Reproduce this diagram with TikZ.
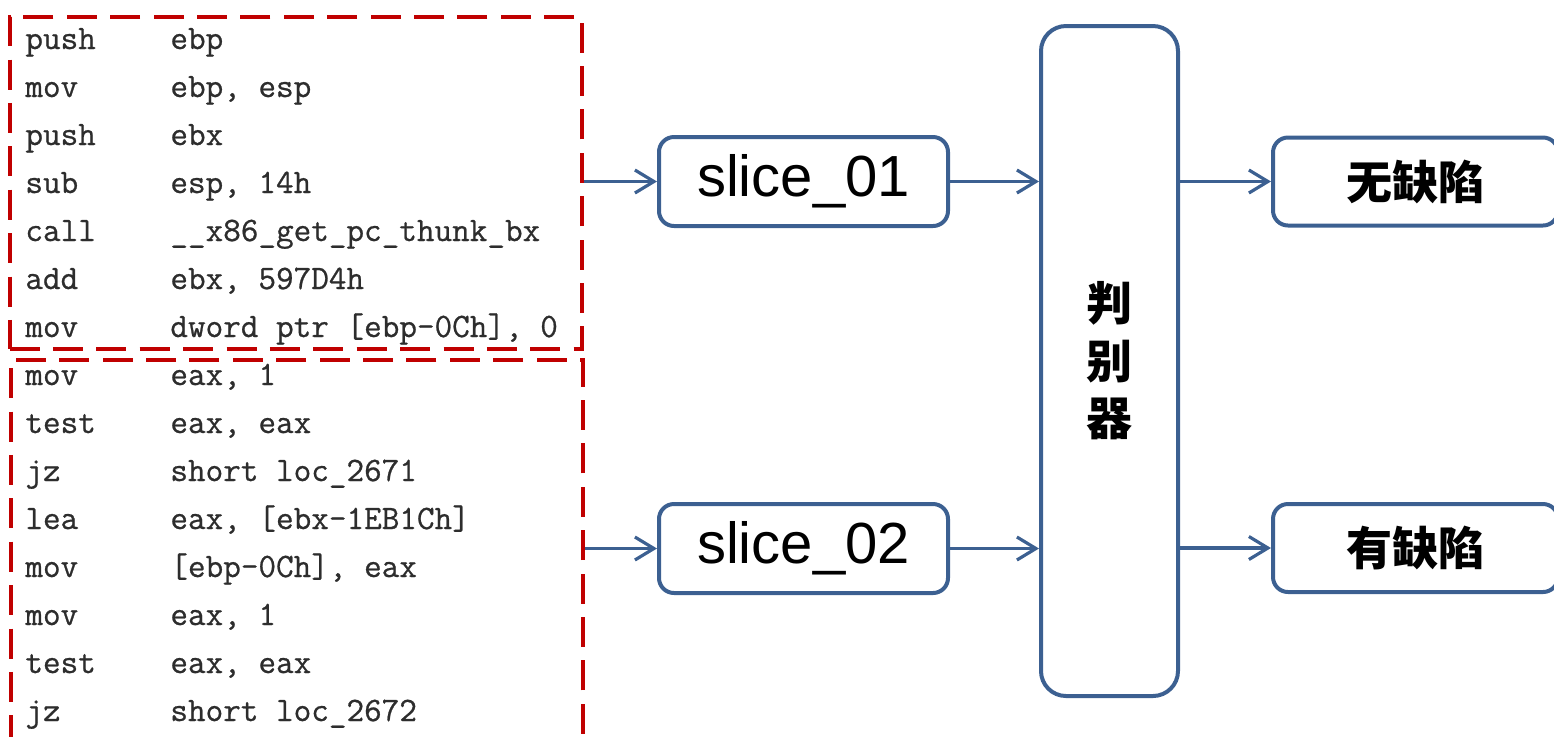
\documentclass[tikz,border=0pt]{standalone}
\usepackage{fontspec}
\newfontfamily\cjk{Noto Sans CJK SC}
\newfontfamily\labelfont{Liberation Sans}
\newfontfamily\codefont{Latin Modern Mono}[FakeBold=0.7]
\usetikzlibrary{arrows.meta}
\definecolor{flowblue}{RGB}{60,96,145}
\definecolor{dashred}{RGB}{192,0,0}
\definecolor{codegray}{RGB}{45,45,45}
\begin{document}
\begin{tikzpicture}[x=0.5pt,y=-0.5pt,
  codebox/.style={draw=dashred, line width=2pt, dash pattern=on 15pt off 6.7pt,
                  minimum width=286pt, inner sep=0pt},
  codetext/.style={anchor=base west, inner sep=0pt, text=codegray,
                   font=\codefont\fontsize{17.1}{20}\selectfont},
  flowbox/.style={draw=flowblue, line width=2pt, rounded corners=7.5pt,
                  fill=white, inner sep=0pt},
  slicebox/.style={flowbox, minimum width=144.5pt, minimum height=44.5pt,
                   font=\labelfont\fontsize{29}{34}\selectfont},
  resultbox/.style={flowbox, minimum width=142.5pt, minimum height=44pt,
                    font=\cjk\bfseries\fontsize{23}{28}\selectfont},
  flow/.style={draw=flowblue, line width=1.6pt,
               -{Straight Barb[length=9.5pt,width=11.5pt]}}
]
\clip (0,0) rectangle (1554,736);

% dashed frames round the two groups of instructions
\node[codebox, minimum height=166pt] (code1) at (295.5,182.5) {};
\node[codebox, minimum height=270pt] (code2) at (297,629.5) {};

% disassembly listing, one line every 48 units
\foreach \op/\arg [count=\i] in {
  push/ebp, mov/{ebp, esp}, push/ebx, sub/{esp, 14h},
  call/{\_\_x86\_get\_pc\_thunk\_bx}, add/{ebx, 597D4h},
  mov/{dword ptr [ebp-0Ch], 0},
  mov/{eax, 1}, test/{eax, eax}, jz/{short loc\_2671},
  lea/{eax, [ebx-1EB1Ch]}, mov/{[ebp-0Ch], eax}, mov/{eax, 1},
  test/{eax, eax}, jz/{short loc\_2672}} {
  \node[codetext] (op\i) at (25,{49+48*(\i-1)}) {\op};
  \node[codetext] (arg\i) at (170,{49+48*(\i-1)}) {\arg};
}

% slices
\node[slicebox] (s1) at (803.5,181.5) {slice\_01};
\node[slicebox] (s2) at (803.5,548.5) {slice\_02};

% discriminator
\node[flowbox, rounded corners=12.5pt, minimum width=68.5pt, minimum height=335pt,
      align=center, font=\cjk\bfseries\fontsize{23}{28.75}\selectfont]
      (judge) at (1109.5,361) {判\\别\\器};

% results
\node[resultbox] (o1) at (1415.5,181.5) {无缺陷};
\node[resultbox] (o2) at (1415.5,548) {有缺陷};

% connectors
\draw[flow] (code1.east |- s1.west) -- (s1.west);
\draw[flow] (code2.east |- s2.west) -- (s2.west);
\draw[flow] (s1.east) -- (judge.west |- s1.east);
\draw[flow] (s2.east) -- (judge.west |- s2.east);
\draw[flow] (judge.east |- o1.west) -- (o1.west);
\draw[flow] (judge.east |- o2.west) -- (o2.west);
\end{tikzpicture}
\end{document}
